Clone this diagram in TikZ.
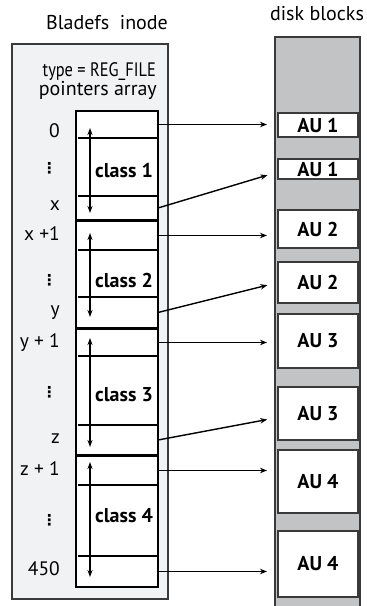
\documentclass[tikz,border=0pt]{standalone}
\usepackage{fontspec}
\setmainfont{PT Sans}
\newfontfamily\symfont{DejaVu Sans}
\usetikzlibrary{arrows.meta}
\definecolor{inodefill}{HTML}{F1F2F4}
\definecolor{diskfill}{HTML}{C2C3C5}
\definecolor{frame}{HTML}{3A3A3A}
\begin{document}
\begin{tikzpicture}[x=1pt,y=-1pt,
  cell/.style={anchor=north west, minimum width=82pt, inner sep=0pt, outer sep=0pt},
  blk/.style={draw=frame, fill=white, line width=1.1pt, anchor=north west,
    minimum width=80pt, inner sep=0pt, outer sep=0pt,
    font=\fontsize{20}{22}\selectfont\bfseries},
  rowlbl/.style={anchor=base east, inner sep=0pt, font=\fontsize{19.5}{22}\selectfont},
  dots/.style={anchor=east, inner sep=0pt, font=\fontsize{15}{15}\symfont\bfseries},
  cls/.style={anchor=base, inner sep=0pt, font=\fontsize{20}{22}\selectfont\bfseries},
  title/.style={anchor=base, inner sep=0pt, font=\fontsize{20}{22}\selectfont},
  ptr/.style={line width=1.4pt, -{Stealth[length=7pt,width=5.5pt]}, shorten >=11pt},
  span/.style={line width=1.1pt, {Stealth[length=7pt,width=5pt]}-{Stealth[length=7pt,width=5pt]}},
  sep/.style={line width=1.2pt},
  classsep/.style={line width=3.4pt}]
\useasboundingbox (0,0) rectangle (367,606);

% titles
\node[title] (tinode) at (107,29) {Bladefs\ \ inode};
\node[title] (tdisk) at (317,20) {disk blocks};

% inode frame
\draw[draw=frame, fill=inodefill, line width=1.5pt] (12,44) rectangle (168,599);
\node[anchor=base east, inner sep=0pt] (type) at (156,76)
  {\scalebox{0.84}[1]{\fontsize{19.5}{20}\selectfont type = REG\_FILE}};
\node[anchor=base east, inner sep=0pt, font=\fontsize{20}{22}\selectfont] (parr) at (157,95) {pointers array};

% disk column
\draw[draw=frame, fill=diskfill, line width=1.7pt] (275,37) rectangle (360,612);

% pointer array cells
\draw[fill=white, line width=1.6pt] (76,111) rectangle (158,587);
\node[cell, minimum height=27pt] (r0)   at (76,111) {};
\node[cell, minimum height=58pt] (c1m)  at (76,138) {};
\node[cell, minimum height=24pt] (rx)   at (76,196) {};
\node[cell, minimum height=29pt] (rx1)  at (76,221) {};
\node[cell, minimum height=47pt] (c2m)  at (76,250) {};
\node[cell, minimum height=31pt] (ry)   at (76,297) {};
\node[cell, minimum height=27pt] (ry1)  at (76,329) {};
\node[cell, minimum height=69pt] (c3m)  at (76,356) {};
\node[cell, minimum height=30pt] (rz)   at (76,425) {};
\node[cell, minimum height=29pt] (rz1)  at (76,456) {};
\node[cell, minimum height=71pt] (c4m)  at (76,485) {};
\node[cell, minimum height=31pt] (r450) at (76,556) {};

% row separators inside each class
\foreach \c in {r0,c1m,rx1,c2m,ry1,c3m,rz1,c4m}
  \draw[sep] ([xshift=2pt]\c.south west) -- (\c.south east);
% heavier separators between classes
\foreach \c in {rx,ry,rz}
  \draw[classsep] ([yshift=-0.5pt]\c.south west) -- ([yshift=-0.5pt]\c.south east);

% class labels
\node[cls] (k1) at (124,177) {class 1};
\node[cls] (k2) at (124,287) {class 2};
\node[cls] (k3) at (124,401) {class 3};
\node[cls] (k4) at (124,522) {class 4};

% extent of each class
\coordinate (s1a) at (90,128); \coordinate (s1b) at (90,213);
\coordinate (s2a) at (90,233); \coordinate (s2b) at (90,317);
\coordinate (s3a) at (90,338); \coordinate (s3b) at (90,447);
\coordinate (s4a) at (90,462); \coordinate (s4b) at (90,577);
\draw[span] (s1a) -- (s1b);
\draw[span] (s2a) -- (s2b);
\draw[span] (s3a) -- (s3b);
\draw[span] (s4a) -- (s4b);

% row labels
\node[rowlbl] (l0)   at (60,137) {0};
\node[dots]   (d1)   at (57,168) {⋮};
\node[rowlbl] (lx)   at (60,210) {x};
\node[rowlbl] (lx1)  at (60,240) {x +1};
\node[dots]   (d2)   at (57,280) {⋮};
\node[rowlbl] (ly)   at (60,315) {y};
\node[rowlbl] (ly1)  at (60,347) {y + 1};
\node[dots]   (d3)   at (57,392) {⋮};
\node[rowlbl] (lz)   at (60,443) {z};
\node[rowlbl] (lz1)  at (60,475) {z + 1};
\node[dots]   (d4)   at (57,520) {⋮};
\node[rowlbl] (l450) at (60,575) {450};

% disk blocks
\node[blk, minimum height=24pt] (b1) at (278,113) {AU 1};
\node[blk, minimum height=20pt] (b2) at (278,159) {AU 1};
\node[blk, minimum height=38pt] (b3) at (278,210) {AU 2};
\node[blk, minimum height=41pt] (b4) at (278,262) {AU 2};
\node[blk, minimum height=54pt] (b5) at (278,314) {AU 3};
\node[blk, minimum height=53pt] (b6) at (278,387) {AU 3};
\node[blk, minimum height=63pt] (b7) at (278,450) {AU 4};
\node[blk, minimum height=66pt] (b8) at (278,531) {AU 4};

% pointers from the array into the blocks
\draw[ptr] (r0.east)   -- (r0.east -| b1.west);
\draw[ptr] (rx.east)   -- ([yshift=-3pt]b2.west);
\draw[ptr] (rx1.east)  -- (rx1.east -| b3.west);
\draw[ptr] (ry.east)   -- (b4.west);
\draw[ptr] (ry1.east)  -- (ry1.east -| b5.west);
\draw[ptr] (rz.east)   -- ([yshift=-4pt]b6.west);
\draw[ptr] (rz1.east)  -- (rz1.east -| b7.west);
\draw[ptr] (r450.east) -- (r450.east -| b8.west);
\end{tikzpicture}
\end{document}
